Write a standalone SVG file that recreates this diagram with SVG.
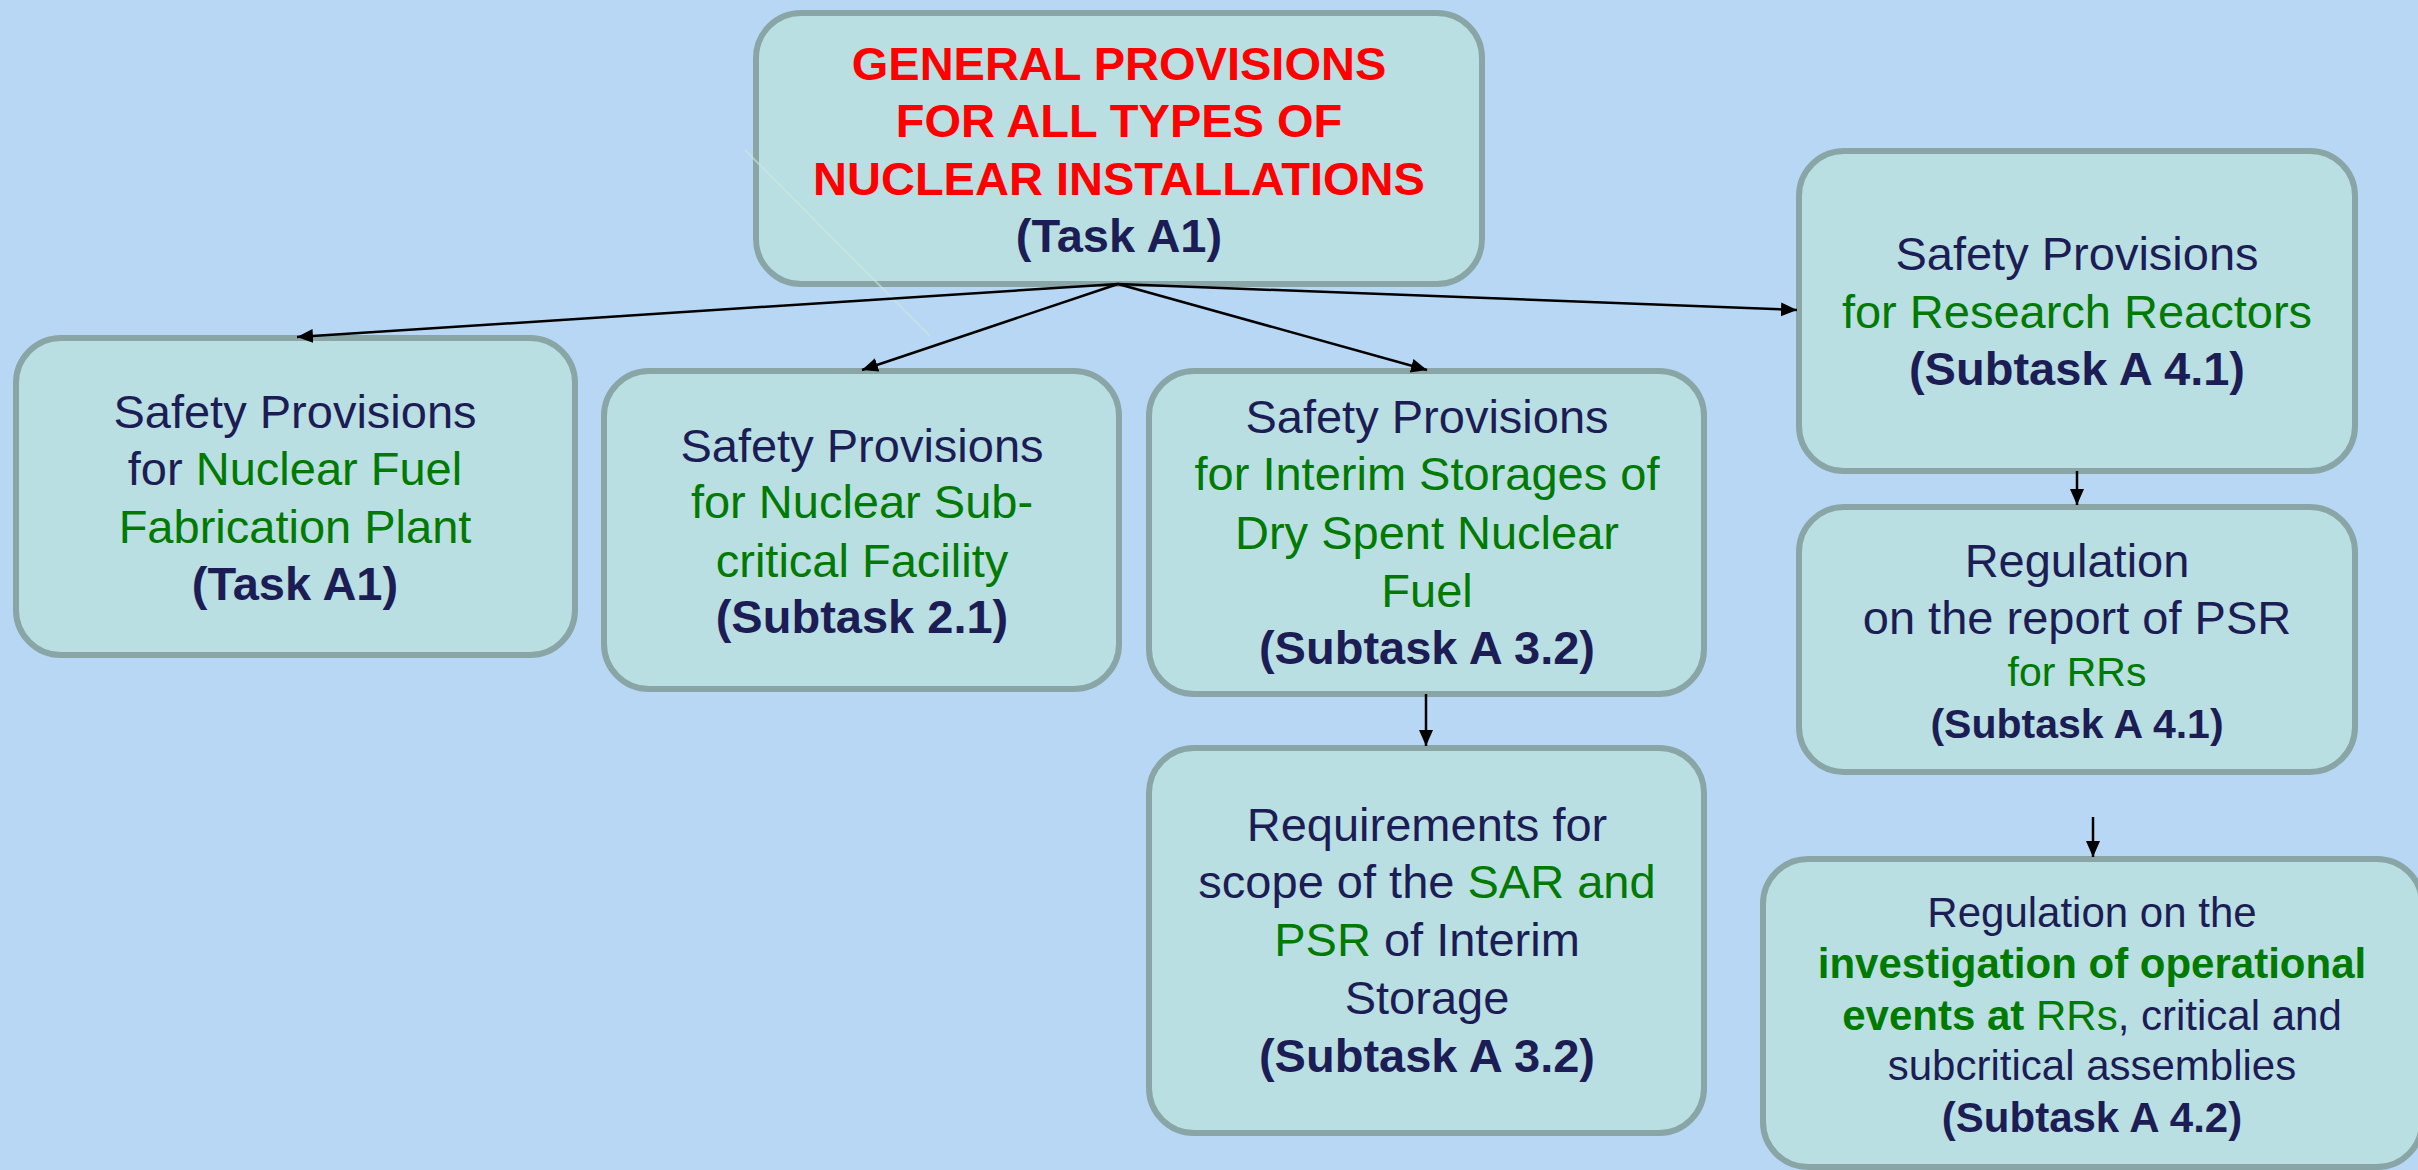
<svg xmlns="http://www.w3.org/2000/svg" width="2418" height="1170" viewBox="0 0 2418 1170">
<defs>
<style>
.box{fill:#B9DFE3;stroke:#89A5A6;stroke-width:6}
text{font-family:"Liberation Sans",Arial,sans-serif;text-anchor:middle;fill:#1D1D55}
.t{font-size:47px}
.s{font-size:41px}
.m{font-size:42px}
.b{font-weight:bold}
.g{fill:#007A00}
.r{fill:#FF0000}
.c{stroke:#000;stroke-width:2.5;fill:none;marker-end:url(#ah)}
</style>
<marker id="ah" markerUnits="userSpaceOnUse" markerWidth="18" markerHeight="14" refX="16" refY="7" orient="auto">
<path d="M0,0 L16,7 L0,14 z" fill="#000"/>
</marker>
</defs>
<rect x="0" y="0" width="2418" height="1170" fill="#B7D7F4"/>

<g id="n-general">
<rect class="box" x="756" y="13" width="726" height="271" rx="45"/>
<text class="t b"><tspan class="r" x="1119" y="80">GENERAL PROVISIONS</tspan><tspan class="r" x="1119" y="137">FOR ALL TYPES OF</tspan><tspan class="r" x="1119" y="195">NUCLEAR INSTALLATIONS</tspan><tspan x="1119" y="252">(Task A1)</tspan></text>
</g>

<g id="n-fuel">
<rect class="box" x="16" y="338" width="559" height="317" rx="45"/>
<text class="t"><tspan x="295" y="428">Safety Provisions</tspan><tspan x="295" y="485">for <tspan class="g">Nuclear Fuel</tspan></tspan><tspan class="g" x="295" y="543">Fabrication Plant</tspan><tspan class="b" x="295" y="600">(Task A1)</tspan></text>
</g>

<g id="n-subcritical">
<rect class="box" x="604" y="371" width="515" height="318" rx="45"/>
<text class="t"><tspan x="862" y="462">Safety Provisions</tspan><tspan class="g" x="862" y="518">for Nuclear Sub-</tspan><tspan class="g" x="862" y="577">critical Facility</tspan><tspan class="b" x="862" y="633">(Subtask 2.1)</tspan></text>
</g>

<g id="n-interim">
<rect class="box" x="1149" y="371" width="555" height="323" rx="45"/>
<text class="t"><tspan x="1427" y="433">Safety Provisions</tspan><tspan class="g" x="1427" y="490">for Interim Storages of</tspan><tspan class="g" x="1427" y="549">Dry Spent Nuclear</tspan><tspan class="g" x="1427" y="607">Fuel</tspan><tspan class="b" x="1427" y="664">(Subtask A 3.2)</tspan></text>
</g>

<g id="n-sar">
<rect class="box" x="1149" y="748" width="555" height="385" rx="45"/>
<text class="t"><tspan x="1427" y="841">Requirements for</tspan><tspan x="1427" y="898">scope of the <tspan class="g">SAR and</tspan></tspan><tspan x="1427" y="956"><tspan class="g">PSR</tspan> of Interim</tspan><tspan x="1427" y="1014">Storage</tspan><tspan class="b" x="1427" y="1072">(Subtask A 3.2)</tspan></text>
</g>

<g id="n-research">
<rect class="box" x="1799" y="151" width="556" height="320" rx="45"/>
<text class="t"><tspan x="2077" y="270">Safety Provisions</tspan><tspan class="g" x="2077" y="328">for Research Reactors</tspan><tspan class="b" x="2077" y="385">(Subtask A 4.1)</tspan></text>
</g>

<g id="n-psr">
<rect class="box" x="1799" y="507" width="556" height="265" rx="45"/>
<text class="t"><tspan x="2077" y="577">Regulation</tspan><tspan x="2077" y="634">on the report of PSR</tspan></text>
<text class="s"><tspan class="g" x="2077" y="686">for RRs</tspan><tspan class="b" x="2077" y="738">(Subtask A 4.1)</tspan></text>
</g>

<g id="n-events">
<rect class="box" x="1763" y="859" width="659" height="308" rx="45"/>
<text class="m"><tspan x="2092" y="927">Regulation on the</tspan><tspan class="g b" x="2092" y="978">investigation of operational</tspan><tspan x="2092" y="1030"><tspan class="g b">events at </tspan><tspan class="g">RRs</tspan>, critical and</tspan><tspan x="2092" y="1080">subcritical assemblies</tspan><tspan class="b" x="2092" y="1132">(Subtask A 4.2)</tspan></text>
</g>

<line x1="745" y1="150" x2="930" y2="336" stroke="#CDE9DA" stroke-width="2" opacity="0.6"/>

<g id="connectors">
<line class="c" x1="1118" y1="284" x2="297" y2="337"/>
<line class="c" x1="1118" y1="284" x2="862" y2="370"/>
<line class="c" x1="1118" y1="284" x2="1427" y2="370"/>
<line class="c" x1="1118" y1="284" x2="1797" y2="310"/>
<line class="c" x1="1426" y1="694" x2="1426" y2="746"/>
<line class="c" x1="2077" y1="471" x2="2077" y2="505"/>
<line class="c" x1="2093" y1="817" x2="2093" y2="857"/>
</g>
</svg>
